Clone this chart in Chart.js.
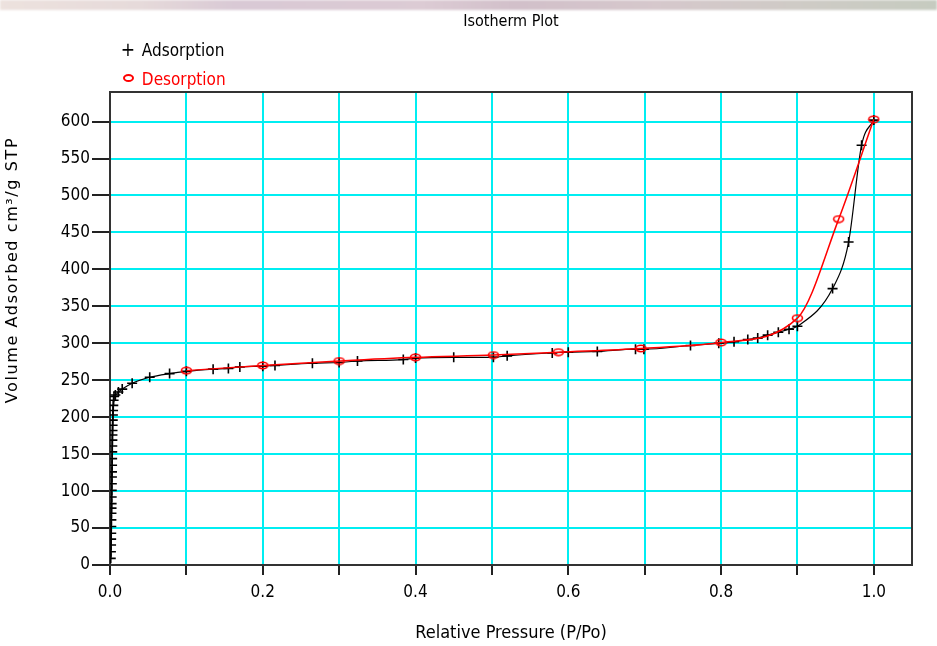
<!DOCTYPE html>
<html>
<head>
<meta charset="utf-8">
<script src="https://cdn.jsdelivr.net/npm/chart.js@4/dist/chart.umd.min.js"></script>
<style>
  html, body { margin: 0; padding: 0; background: #fff; }
  body { width: 937px; height: 646px; position: relative; overflow: hidden; }
  #strip {
    position: absolute; left: 0; top: 0; width: 937px; height: 10px;
    background: linear-gradient(90deg, #ede2de 0%, #e6dada 15%, #d9c9d5 25%, #dccbd4 45%, #d2c0ca 55%, #d6c8cc 70%, #cfcbc6 85%, #c6cbc0 100%);
    filter: blur(1px);
  }
  #chart { position: absolute; left: 0; top: 0; }
  #legend {
    position: absolute; left: 119px; top: 35px;
    font-family: "Liberation Sans Narrow", "DejaVu Sans Condensed", sans-serif;
    font-size: 17px; line-height: 28px;
  }
  #legend .mk { display: inline-block; width: 18px; text-align: center; font-size: 19px; }
  .ell { display: inline-block; width: 7px; height: 4px; border: 2px solid #f00; border-radius: 50%; vertical-align: 3px; }
</style>
</head>
<body>
<div id="strip"></div>
<canvas id="chart" width="937" height="646"></canvas>
<div id="legend"></div>
<script>
// adsorption branch, relative pressure P/Po
const adsP = [0.0010, 0.0012, 0.0014, 0.0015, 0.0016, 0.0017, 0.0018, 0.0019, 0.0020, 0.0021,
              0.0022, 0.0023, 0.0024, 0.0025, 0.0026, 0.0027, 0.0028, 0.0029, 0.0030, 0.0031,
              0.0032, 0.0033, 0.0034, 0.0036, 0.0038, 0.0040, 0.0043, 0.0047, 0.0052, 0.007,
              0.011, 0.016, 0.029, 0.052, 0.078, 0.1, 0.135, 0.155, 0.17, 0.2,
              0.216, 0.265, 0.3, 0.324, 0.384, 0.4, 0.45, 0.502, 0.52, 0.579,
              0.6, 0.638, 0.688, 0.699, 0.76, 0.797, 0.817, 0.835, 0.848, 0.861,
              0.875, 0.889, 0.9, 0.946, 0.967, 0.984, 1.0];
// adsorption branch, volume adsorbed cm3/g STP
const adsV = [9, 18, 27, 35, 43, 52, 61, 70, 77, 83,
              92, 101, 110, 119, 126, 135, 144, 153, 161, 169,
              176, 182, 189, 196, 203, 209, 216, 223, 228, 230,
              234, 238, 246, 254, 259, 262, 265, 266, 268, 269,
              270, 273, 274, 276, 278, 280, 281, 281, 283, 287,
              288, 289, 292, 292, 297, 300, 302, 305, 307, 311,
              315, 319, 323, 374, 437, 568, 602];
// desorption branch
const desP = [0.1, 0.2, 0.3, 0.4, 0.502, 0.587, 0.695, 0.8, 0.9, 0.954, 1.0];
const desV = [263, 270, 276, 281, 284, 288, 293, 301, 334, 468, 603];

const seriesNames = ["Adsorption", "Desorption"];
const seriesColors = ["#000000", "#ff0000"];

const narrow = '"Liberation Sans Narrow", "DejaVu Sans Condensed", sans-serif';

// small ellipse marker like the original "o"
const ellipse = document.createElement("canvas");
ellipse.width = 13; ellipse.height = 9;
{
    const c = ellipse.getContext("2d");
    c.strokeStyle = "#ff0000";
    c.lineWidth = 1.6;
    c.beginPath();
    c.ellipse(6.5, 4.5, 5, 3.2, 0, 0, Math.PI * 2);
    c.stroke();
}

const toPoints = (xs, ys) => xs.map((x, i) => ({ x: x, y: ys[i] }));

const frame = {
    id: "frame",
    beforeDatasetsDraw(chart) {
        const { ctx, chartArea: a } = chart;
        ctx.save();
        ctx.strokeStyle = "#333";
        ctx.lineWidth = 2;
        ctx.strokeRect(a.left, a.top, a.right - a.left, a.bottom - a.top);
        ctx.restore();
    },
    afterDraw(chart) {
        const { ctx, chartArea: a } = chart;
        ctx.save();
        ctx.fillStyle = "#000";
        ctx.textAlign = "center";
        ctx.textBaseline = "middle";
        ctx.font = "16px " + narrow;
        ctx.fillText("Isotherm Plot", (a.left + a.right) / 2, 22);
        ctx.translate(13, 270);
        ctx.rotate(-Math.PI / 2);
        ctx.font = '16px "DejaVu Sans", sans-serif';
        ctx.letterSpacing = "1.6px";
        ctx.fillText("Volume Adsorbed cm³/g STP", 0, 0);
        ctx.restore();
    }
};

const chart = new Chart(document.getElementById("chart"), {
    type: "scatter",
    data: {
        datasets: [
            {
                label: seriesNames[0],
                data: toPoints(adsP, adsV),
                showLine: true,
                borderColor: seriesColors[0],
                borderWidth: 1.2,
                pointStyle: "cross",
                pointRadius: 5,
                pointBorderWidth: 1.6,
                pointBorderColor: seriesColors[0],
                cubicInterpolationMode: "monotone",
                order: 2
            },
            {
                label: seriesNames[1],
                data: toPoints(desP, desV),
                showLine: true,
                borderColor: seriesColors[1],
                borderWidth: 1.5,
                pointStyle: ellipse,
                cubicInterpolationMode: "monotone",
                order: 1
            }
        ]
    },
    options: {
        responsive: false,
        maintainAspectRatio: false,
        animation: false,
        layout: { padding: { left: 0, top: 92, right: 25, bottom: 0 } },
        plugins: {
            legend: { display: false },
            title: { display: false },
            tooltip: { enabled: false }
        },
        scales: {
            x: {
                type: "linear",
                min: 0,
                max: 1.05,
                afterFit(s) { s.height = 81; },
                border: { color: "#222", width: 2 },
                grid: {
                    color: (c) => (c.tick && c.tick.value === 0 ? "rgba(0,0,0,0)" : "#00eef2"),
                    lineWidth: 2,
                    tickColor: "#222",
                    tickWidth: 2,
                    tickLength: 10
                },
                ticks: {
                    stepSize: 0.1,
                    includeBounds: false,
                    autoSkip: false,
                    maxRotation: 0,
                    padding: 7,
                    color: "#000",
                    font: { family: narrow, size: 17 },
                    callback: (v) => (Math.round(v * 10) % 2 === 0 ? v.toFixed(1) : "")
                },
                title: {
                    display: true,
                    text: "Relative Pressure (P/Po)",
                    color: "#000",
                    font: { family: narrow, size: 18 },
                    padding: { top: 0, bottom: 2 }
                }
            },
            y: {
                type: "linear",
                min: 0,
                max: 640,
                afterFit(s) { s.width = 110; },
                border: { color: "#222", width: 2 },
                grid: {
                    color: (c) => (c.tick && c.tick.value === 0 ? "rgba(0,0,0,0)" : "#00eef2"),
                    lineWidth: 2,
                    tickColor: "#222",
                    tickWidth: 2,
                    tickLength: 18
                },
                ticks: {
                    stepSize: 50,
                    includeBounds: false,
                    autoSkip: false,
                    padding: 2,
                    color: "#000",
                    font: { family: narrow, size: 17 }
                }
            }
        }
    },
    plugins: [frame]
});

// legend stacked like the original
const legend = document.getElementById("legend");
legend.innerHTML =
    '<div style="color:' + seriesColors[0] + '"><span class="mk">+</span> ' + seriesNames[0] + "</div>" +
    '<div style="color:' + seriesColors[1] + '"><span class="mk"><span class="ell"></span></span> ' + seriesNames[1] + "</div>";
</script>
</body>
</html>
